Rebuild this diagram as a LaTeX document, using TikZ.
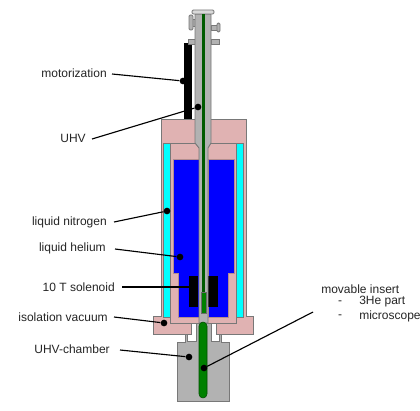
\documentclass[tikz,border=0pt]{standalone}
\usepackage{fontspec}
\usepackage{xcolor}
\usepackage{tikz}
\setmainfont{Liberation Sans}
\definecolor{cryopink}{RGB}{224, 178, 178}
\definecolor{steelgray}{RGB}{178, 178, 178}
\definecolor{edgegray}{RGB}{120, 120, 120}
\definecolor{insertgreen}{RGB}{0, 128, 0}
\definecolor{nitrogencyan}{RGB}{0, 255, 255}
\definecolor{heliumblue}{RGB}{0, 0, 255}

\begin{document}
\begin{tikzpicture}[x=0.75pt, y=-0.75pt, >=latex,
    wall/.style={draw=edgegray, line width=0.7pt},
    lbl/.style={font=\fontsize{9}{11}\selectfont, text=black!85, inner sep=0pt},
    pin/.style={circle, fill=black, inner sep=0pt, minimum size=5pt},
    lead/.style={black, line width=0.85pt}]
    \useasboundingbox (0,0) rectangle (420,410);
    \fill[white] (0,0) rectangle (420,410);

    % chamber below the flange
    \filldraw[wall, fill=steelgray] (177,401) -- (177,342) -- (185,342) -- (185,334) -- (196,334) -- (196,322)
        -- (211,322) -- (211,334) -- (221,334) -- (221,342) -- (229,342) -- (229,401) -- cycle;
    \filldraw[wall, fill=white] (191,323) -- (196,323) -- (196,341) -- (187,341) -- (187,334) -- (191,334) -- cycle;
    \filldraw[wall, fill=white] (216,323) -- (211,323) -- (211,341) -- (219,341) -- (219,334) -- (216,334) -- cycle;

    % cryostat body
    \filldraw[wall, fill=cryopink] (161,119) -- (246,119) -- (246,316) -- (253,316) -- (253,334) -- (216,334) -- (216,323)
        -- (191,323) -- (191,334) -- (153,334) -- (153,316) -- (161,316) -- cycle;
    \filldraw[wall, fill=nitrogencyan] (163.5,143) rectangle (170.5,317);
    \filldraw[wall, fill=nitrogencyan] (236.5,143) rectangle (243.5,317);
    \draw[wall] (163.5,143) -- (243.5,143);
    \draw[wall] (170.5,317) -- (170.5,323) -- (198,323);
    \draw[wall] (236.5,317) -- (236.5,323) -- (208,323);

    % helium bath and solenoid
    \filldraw[draw=cryopink!80!black, line width=0.5pt, fill=heliumblue] (173,159) -- (199,159) -- (199,317) -- (178,317) -- (178,273) -- (173,273) -- cycle;
    \filldraw[draw=cryopink!80!black, line width=0.5pt, fill=heliumblue] (234,159) -- (208,159) -- (208,317) -- (228,317) -- (228,273) -- (234,273) -- cycle;
    \fill[black] (189,276) rectangle (198,307);
    \fill[black] (208,276) rectangle (218,307);

    % flanges on the tube
    \fill[black] (184,43) rectangle (192,119);
    \filldraw[wall, fill=steelgray] (188,39) rectangle (195,44);
    \filldraw[wall, fill=steelgray] (211,39) rectangle (219,44);
    \filldraw[wall, fill=steelgray] (192,19) rectangle (195,26);
    \filldraw[wall, fill=steelgray, rounded corners=1pt] (189,15) rectangle (193,30);
    \filldraw[wall, fill=steelgray] (211,25) rectangle (217,30);
    \filldraw[wall, fill=steelgray, rounded corners=1pt] (217,23) rectangle (220,32);

    % tube and insert
    \filldraw[wall, fill=steelgray] (195,14) -- (211,14) -- (211,143) -- (208,148) -- (208,323) -- (199,323) -- (199,148) -- (195,143) -- cycle;
    \filldraw[wall, fill=white!85!black, rounded corners=1pt] (192,10) rectangle (214,14);
    \fill[insertgreen!70!black] (202,14) rectangle (205,148);
    \fill[insertgreen!70!black] (202.2,148) rectangle (204.8,292);
    \filldraw[draw=steelgray!60!black, line width=0.4pt, fill=insertgreen] (201,292) rectangle (206,313);
    \filldraw[draw=insertgreen!60!black, line width=0.4pt, fill=insertgreen, rounded corners=3pt] (199,322) -- (207,322) -- (207,398) -- (199,398) -- cycle;

    % labels
    \node[lbl, anchor=east] (motorlabel) at (107,73) {motorization};
    \node[lbl, anchor=east] (uhvlabel) at (86,138) {UHV};
    \node[lbl, anchor=east] (nitrogenlabel) at (107,222) {liquid nitrogen};
    \node[lbl, anchor=east] (heliumlabel) at (106,248) {liquid helium};
    \node[lbl, anchor=east] (solenoidlabel) at (115,287) {10 T solenoid};
    \node[lbl, anchor=east] (vacuumlabel) at (108,317) {isolation vacuum};
    \node[lbl, anchor=east] (chamberlabel) at (110,349) {UHV-chamber};
    \node[lbl, anchor=west] (insertlabel) at (321,289) {movable insert};
    \node[lbl, anchor=center] (dashone) at (340,303) {-};
    \node[lbl, anchor=west] (helabel) at (359,302) {3He part};
    \node[lbl, anchor=center] (dashtwo) at (340,317) {-};
    \node[lbl, anchor=west] (scopelabel) at (359,316) {microscope};

    % ends of the leader lines
    \node[pin] (motorpin) at (183,81) {};
    \node[pin] (uhvpin) at (198,107) {};
    \node[pin] (nitrogenpin) at (167,211) {};
    \node[pin] (heliumpin) at (180,257) {};
    \node[pin] (vacuumpin) at (164,323) {};
    \node[pin] (chamberpin) at (189,357) {};
    \node[pin] (insertpin) at (204,368) {};
    \coordinate (motorstart) at (112,74);
    \coordinate (uhvstart) at (92,139);
    \coordinate (nitrogenstart) at (114,222);
    \coordinate (heliumstart) at (115,249);
    \coordinate (solenoidstart) at (122,287);
    \coordinate (solenoidend) at (190,287);
    \coordinate (vacuumstart) at (114,317);
    \coordinate (chamberstart) at (120,350);
    \coordinate (insertstart) at (313,312);

    \draw[lead] (motorstart) -- (motorpin);
    \draw[lead] (uhvstart) -- (uhvpin);
    \draw[lead] (nitrogenstart) -- (nitrogenpin);
    \draw[lead] (heliumstart) -- (heliumpin);
    \draw[lead] (solenoidstart) -- (solenoidend);
    \draw[lead] (vacuumstart) -- (vacuumpin);
    \draw[lead] (chamberstart) -- (chamberpin);
    \draw[lead] (insertstart) -- (insertpin);
\end{tikzpicture}
\end{document}
